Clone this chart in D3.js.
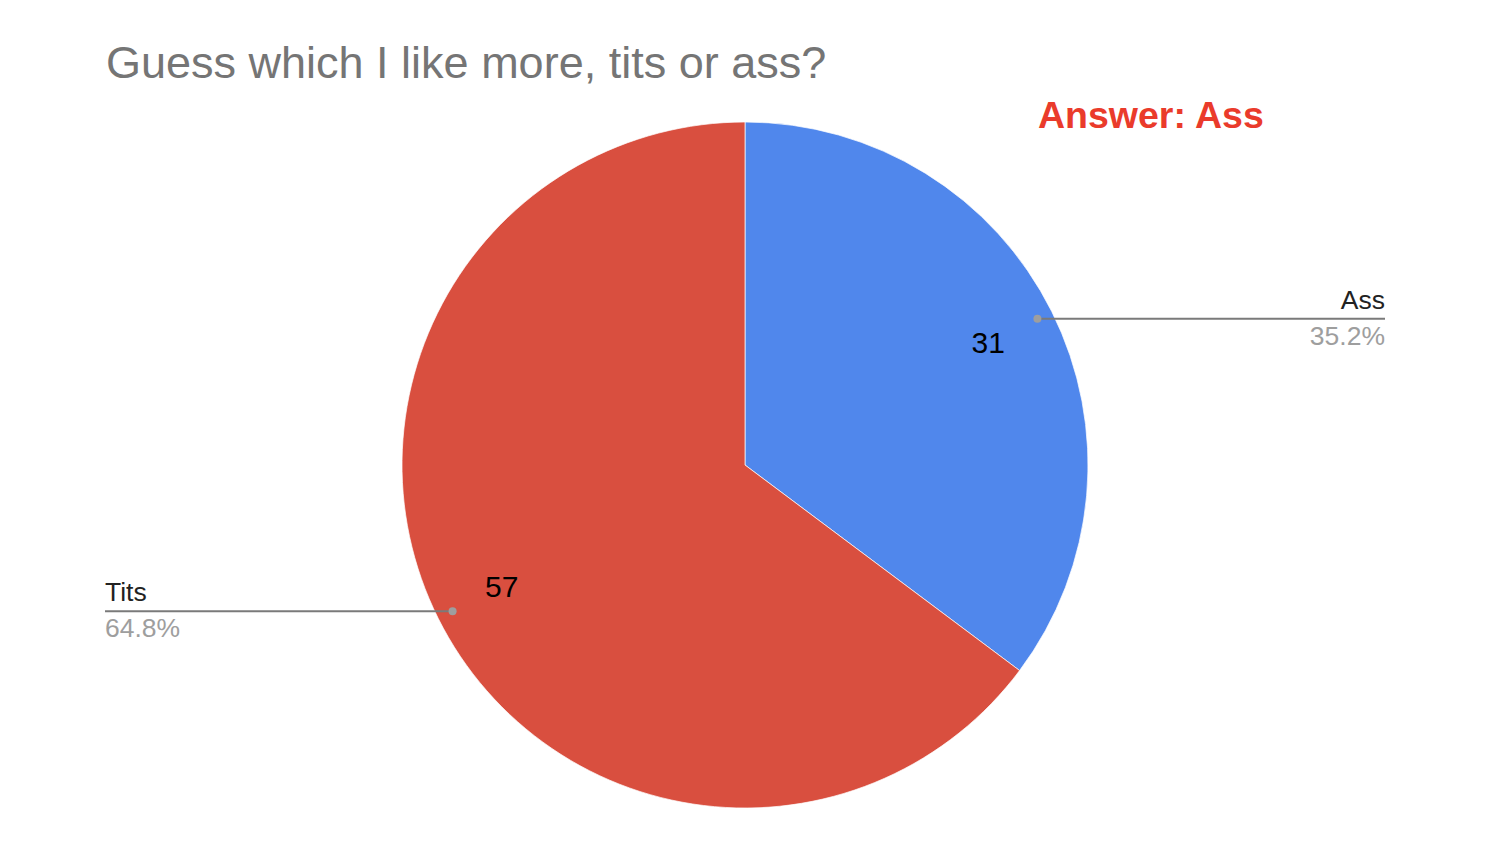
<!DOCTYPE html>
<html>
<head>
<meta charset="utf-8">
<script src="https://cdn.jsdelivr.net/npm/d3@7"></script>
<style>
  body { margin: 0; background: #fff; }
  text { font-family: "Liberation Sans", Arial, sans-serif; }
</style>
</head>
<body>
<svg id="chart" width="1500" height="842"></svg>
<script>
const categories = ['Ass', 'Tits'];
const values = [31, 57];
const colors = ['#5087ec', '#d94f3f'];
const title = 'Guess which I like more, tits or ass?';
const note = 'Answer: Ass';

const width = 1500, height = 842,
  cx = 745, cy = 465, radius = 343;

const svg = d3.select('#chart');

const total = d3.sum(values);
const data = categories.map((c, i) => ({ label: c, value: values[i], color: colors[i] }));

const pie = d3.pie().sort(null).value(d => d.value);
const arc = d3.arc().innerRadius(0).outerRadius(radius);
const valueArc = d3.arc().innerRadius(272).outerRadius(272);
const dotArc = d3.arc().innerRadius(327).outerRadius(327);
const pct = d3.format('.1%');

svg.append('text')
  .attr('x', 106)
  .attr('y', 78)
  .attr('fill', '#757575')
  .attr('font-size', 45)
  .text(title);

svg.append('text')
  .attr('x', 1038)
  .attr('y', 128)
  .attr('fill', '#ea3b2b')
  .attr('font-size', 37.5)
  .attr('font-weight', 'bold')
  .text(note);

let g = svg.append('g')
  .attr('transform', `translate(${cx},${cy})`);

let arcs = pie(data);

g.selectAll('path.slice')
  .data(arcs)
  .join('path')
  .attr('class', 'slice')
  .attr('d', arc)
  .attr('fill', d => d.data.color)
  .attr('stroke', '#fff')
  .attr('stroke-width', 0.7);

g.selectAll('text.value')
  .data(arcs)
  .join('text')
  .attr('class', 'value')
  .attr('transform', d => `translate(${valueArc.centroid(d)})`)
  .attr('text-anchor', 'middle')
  .attr('dy', '.33em')
  .attr('font-size', 30)
  .attr('fill', '#000')
  .text(d => d.data.value);

// leader lines + outside labels
let labels = g.selectAll('g.label')
  .data(arcs)
  .join('g')
  .attr('class', 'label')
  .each(function (d) {
    let [px, py] = dotArc.centroid(d);
    let right = px > 0;
    let endX = right ? 1385 - cx : 105 - cx;
    let sel = d3.select(this);

    sel.append('line')
      .attr('x1', px).attr('y1', py)
      .attr('x2', endX).attr('y2', py)
      .attr('stroke', '#7a7a7a')
      .attr('stroke-width', 2);

    sel.append('circle')
      .attr('cx', px).attr('cy', py)
      .attr('r', 4)
      .attr('fill', '#9e9e9e');

    sel.append('text')
      .attr('x', endX).attr('y', py - 10)
      .attr('text-anchor', right ? 'end' : 'start')
      .attr('font-size', 26.5)
      .attr('fill', '#222')
      .text(d.data.label);

    sel.append('text')
      .attr('x', endX).attr('y', py + 26)
      .attr('text-anchor', right ? 'end' : 'start')
      .attr('font-size', 26.5)
      .attr('fill', '#9e9e9e')
      .text(pct(d.data.value / total));
  });
</script>
</body>
</html>
